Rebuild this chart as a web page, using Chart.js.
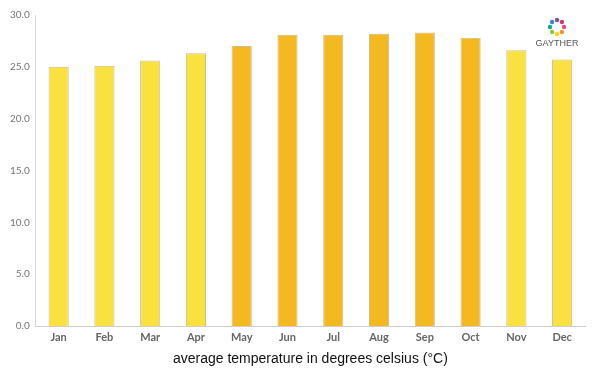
<!DOCTYPE html>
<html>
<head>
<meta charset="utf-8">
<script src="https://cdn.jsdelivr.net/npm/chart.js@4"></script>
<style>
  html, body { margin: 0; padding: 0; background: #fff; }
  #wrap { width: 600px; height: 375px; position: relative; }
</style>
</head>
<body>
<div id="wrap"><canvas id="graf"></canvas></div>
<script>
const months = ["Jan", "Feb", "Mar", "Apr", "May", "Jun", "Jul", "Aug", "Sep", "Oct", "Nov", "Dec"];
const avgTemp = [25.0, 25.1, 25.6, 26.3, 27.0, 28.1, 28.1, 28.2, 28.3, 27.8, 26.6, 25.7];
const hotMonths = ["May", "Jun", "Jul", "Aug", "Sep", "Oct"];
const axisTitle = "average temperature in degrees celsius (°C)";

const yellow = "#f9e140";
const orange = "#f4b820";

// small logo top right
const logo = {
  id: "logo",
  afterDraw(chart) {
    const ctx = chart.ctx;
    const cx = 557, cy = 27, r = 7;
    const cols = ["#e94e77", "#f7941d", "#fcd116", "#8dc63f", "#00a99d", "#2e88c9", "#7f4fa0", "#d9376e"];
    ctx.save();
    cols.forEach((c, i) => {
      const a = i / cols.length * Math.PI * 2;
      ctx.fillStyle = c;
      ctx.beginPath();
      ctx.arc(cx + Math.cos(a) * r, cy + Math.sin(a) * r, 2.2, 0, Math.PI * 2);
      ctx.fill();
    });
    ctx.fillStyle = "#555";
    ctx.font = "9px 'Liberation Sans', Arial, sans-serif";
    ctx.textAlign = "center";
    ctx.fillText("GAYTHER", cx, cy + 19);
    ctx.restore();
  }
};

new Chart(document.getElementById("graf"), {
  type: "bar",
  data: {
    labels: months,
    datasets: [{
      data: avgTemp,
      backgroundColor: months.map(m => hotMonths.includes(m) ? orange : yellow),
      borderColor: "#cdbf8a",
      borderWidth: 1,
      barPercentage: 0.44,
      categoryPercentage: 1
    }]
  },
  options: {
    responsive: true,
    maintainAspectRatio: false,
    animation: false,
    layout: { padding: { left: 4, right: 15, top: 15, bottom: 7 } },
    plugins: { legend: { display: false }, tooltip: { enabled: false } },
    scales: {
      x: {
        grid: { display: false, drawTicks: false },
        border: { color: "#cfcfcf", width: 1 },
        ticks: {
          color: "#666",
          padding: 5,
          font: { family: "Lato, 'DejaVu Sans', sans-serif", size: 11, weight: "bold" }
        },
        title: {
          display: true,
          text: axisTitle,
          color: "#111",
          padding: { top: 2, bottom: 0 },
          font: { family: "'Liberation Sans', Arial, sans-serif", size: 14 }
        }
      },
      y: {
        min: 0,
        max: 30,
        grid: { display: false, drawTicks: false },
        border: { color: "#d8d8d8", width: 1 },
        ticks: {
          stepSize: 5,
          color: "#777",
          padding: 6,
          callback: v => v.toFixed(1),
          font: { family: "Lato, 'DejaVu Sans', sans-serif", size: 10 }
        }
      }
    }
  },
  plugins: [logo]
});
</script>
</body>
</html>
